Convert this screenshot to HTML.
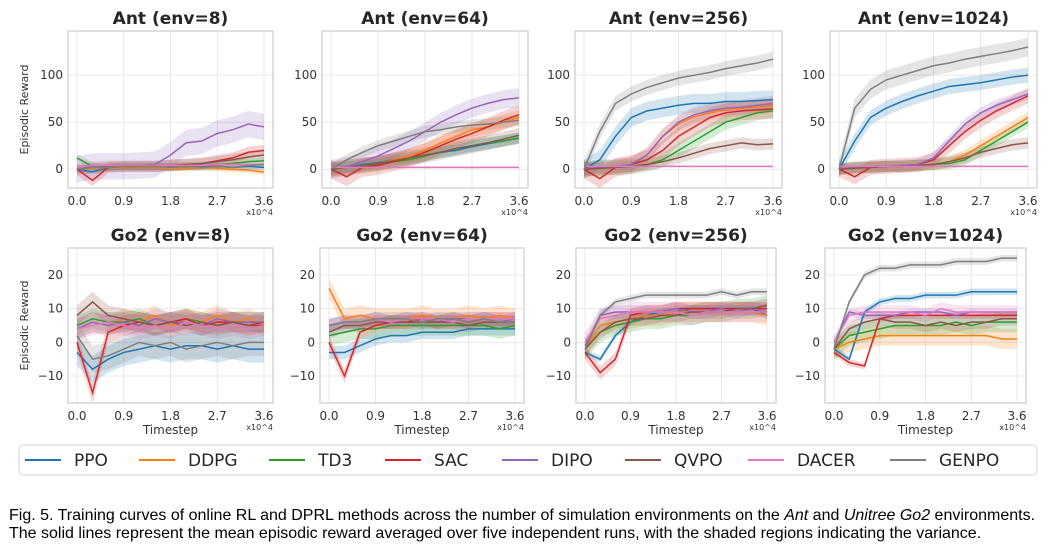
<!DOCTYPE html>
<html><head><meta charset="utf-8"><style>
body{margin:0;background:#fff;width:1064px;height:554px;overflow:hidden;font-family:"DejaVu Sans",sans-serif}
svg{position:absolute;left:0;top:0}
.cap{position:absolute;left:9px;font-family:"Liberation Sans",sans-serif;font-size:16px;color:#000;white-space:nowrap}
</style></head><body>
<svg id="chart" width="1064" height="554"></svg>
<div class="cap" style="top:507px">Fig. 5. Training curves of online RL and DPRL methods across the number of simulation environments on the <i>Ant</i> and <i>Unitree Go2</i> environments.</div>
<div class="cap" style="top:525px">The solid lines represent the mean episodic reward averaged over five independent runs, with the shaded regions indicating the variance.</div>
<script>
const methods=["PPO","DDPG","TD3","SAC","DIPO","QVPO","DACER","GENPO"];
const colors=["#1f77b4","#ff7f0e","#2ca02c","#d62728","#9467bd","#8c564b","#e377c2","#7f7f7f"];
const timesteps=[0,0.3,0.6,0.9,1.2,1.5,1.8,2.1,2.4,2.7,3.0,3.3,3.6];
const xTicks=[0,0.9,1.8,2.7,3.6];
const xTickLabels=["0.0","0.9","1.8","2.7","3.6"];
const antTicks=[0,50,100];
const go2Ticks=[-10,0,10,20];
const panelTitles=["Ant (env=8)","Ant (env=64)","Ant (env=256)","Ant (env=1024)","Go2 (env=8)","Go2 (env=64)","Go2 (env=256)","Go2 (env=1024)"];
const ant8=[[0,-3,2,3,2,3,3,2,3,3,2,3,2],[0,1,2,2,2,2,1,1,2,1,0,-1,-3],[12,3,2,3,3,3,3,4,4,5,6,8,9],[0,-12,2,3,3,3,4,5,6,9,12,18,20],[0,3,3,3,4,5,15,28,30,38,42,48,45],[0,2,3,3,3,3,4,5,6,8,10,13,15],[3,4,4,4,4,4,4,4,4,5,5,5,5],[0,2,2,3,3,3,2,3,2,3,2,4,5]];
const ant64=[[0,2,5,7,10,12,15,18,20,24,27,30,33],[0,2,4,6,10,14,20,28,35,42,45,50,55],[0,2,3,5,8,10,14,18,22,25,28,30,33],[0,-8,2,4,8,12,18,25,32,38,45,52,58],[0,3,8,14,22,30,40,50,58,65,70,74,76],[0,2,4,6,9,12,15,18,22,25,28,32,36],[2,2,2,2,2,2,2,2,2,2,2,2,2],[0,10,18,25,30,35,40,42,45,47,48,50,52]];
const ant256=[[0,10,35,55,62,65,68,70,70,72,72,73,74],[0,1,2,5,15,35,48,56,60,63,65,66,68],[0,1,2,3,5,10,20,30,40,50,55,60,62],[0,-10,2,5,10,20,35,45,55,60,62,63,64],[0,2,3,5,15,35,50,58,62,65,66,68,70],[0,1,2,3,5,8,12,17,22,25,28,26,27],[3,3,3,3,3,3,3,3,3,3,3,3,3],[0,40,70,80,87,92,97,100,103,107,110,113,117]];
const ant1024=[[0,30,55,65,72,78,83,88,90,92,95,98,100],[0,2,2,3,3,4,5,8,15,25,35,45,55],[0,2,2,3,3,4,5,6,10,20,30,40,50],[0,-8,2,3,4,5,10,25,40,52,62,70,78],[0,2,3,3,4,5,12,30,48,60,68,74,80],[0,1,2,3,3,4,5,8,12,18,22,26,28],[3,3,3,3,3,3,3,3,3,3,3,3,3],[0,65,85,95,100,105,110,113,117,120,123,126,130]];
const go8=[[-3,-8,-5,-3,-2,-1,-2,-1,-1,-2,-1,-2,-2],[4,6,5,7,6,8,5,7,6,8,6,7,5],[5,7,6,6,7,5,6,7,6,5,6,6,6],[0,-15,3,5,6,5,6,7,5,6,6,5,6],[4,6,5,6,5,7,6,6,5,7,6,6,6],[8,12,8,7,6,5,6,5,6,5,6,5,5],[4,5,6,5,4,5,4,6,5,4,5,4,5],[2,-5,-4,-2,0,-1,0,-2,-1,0,-1,0,0]];
const go64=[[-3,-3,-1,1,2,2,3,3,3,4,4,4,4],[16,7,8,7,7,7,8,7,7,8,7,8,7],[2,3,4,4,5,5,5,5,5,5,5,4,5],[0,-10,3,5,6,6,7,6,7,6,7,7,7],[5,6,6,7,6,7,7,6,7,7,7,6,7],[3,5,5,6,6,6,6,6,6,5,6,6,6],[5,6,6,7,6,7,7,7,6,7,7,7,7],[5,6,6,7,7,7,6,7,7,6,7,6,6]];
const go256=[[-3,-5,2,6,8,9,9,10,10,10,10,10,8],[-2,5,6,7,8,8,9,9,9,9,9,9,8],[-2,3,5,6,7,7,8,8,9,9,10,10,11],[-3,-9,-5,8,9,9,10,10,10,10,10,10,10],[-1,8,9,9,9,9,10,9,9,10,9,10,9],[-2,3,6,7,7,8,8,9,9,9,10,10,11],[0,7,8,9,9,9,9,8,9,9,9,9,9],[-2,8,12,13,14,14,14,14,14,15,14,15,15]];
const go1024=[[-2,-5,9,12,13,13,14,14,14,15,15,15,15],[-2,0,1,2,2,2,2,2,2,2,2,1,1],[-2,2,3,4,5,5,5,5,6,5,6,6,6],[-3,-6,-7,7,8,8,8,8,8,8,8,8,8],[0,9,8,8,8,9,9,9,8,9,9,9,9],[-2,4,6,7,6,6,5,6,5,6,6,7,7],[0,8,9,9,9,9,8,10,9,9,9,9,9],[-2,12,20,22,22,23,23,23,24,24,24,25,25]];
const spreadAnt=[[3,3,4,6,14,6,2,4],[6,8,6,10,10,8,1,6],[10,8,8,10,8,6,1,8],[8,6,6,8,6,6,1,10]];
const spreadGo2=[[4,3,3,3,3,3,3,4],[2,3,3,2,2,2,2,2],[1,3,3,2,2,2,3,1],[1,3,3,1,1,2,2,1]];
const allData=[ant8,ant64,ant256,ant1024,go8,go64,go256,go1024];

const NS="http://www.w3.org/2000/svg";
const svg=document.getElementById("chart");
function mk(tag,attrs,parent){const e=document.createElementNS(NS,tag);for(const k in attrs)e.setAttribute(k,attrs[k]);(parent||svg).appendChild(e);return e;}
const rowTop=[31,248],rowH=[157,155];
const lefts=[[68,322,575,830],[68,320,576,825]];
const widths=[[205,206,207,207],[205,204,200,201]];
const ylims=[[-20,147],[-18,28]];
for(let p=0;p<8;p++){
  const r=Math.floor(p/4),c=p%4;
  const L=lefts[r][c],W=widths[r][c],T=rowTop[r],H=rowH[r];
  const [y0,y1]=ylims[r];
  const xs=v=>L+9+v/3.6*(W-18);
  const ys=v=>T+H-(v-y0)/(y1-y0)*H;
  const g=mk("g",{});
  
  
  const t=mk("text",{x:L+W/2,y:T-7,"text-anchor":"middle","font-size":"17","font-weight":"bold",fill:"#262626"},g);
  t.textContent=panelTitles[p];
  
  
  const yt=r===0?antTicks:go2Ticks;
  xTicks.forEach((v,i)=>{
    mk("line",{x1:xs(v),x2:xs(v),y1:T,y2:T+H,stroke:"#e8e8e8","stroke-width":1},g);
    const tl=mk("text",{x:xs(v),y:T+H+17,"text-anchor":"middle","font-size":"12",fill:"#333"},g);
    tl.textContent=xTickLabels[i];
    
    
  });
  yt.forEach(v=>{
    mk("line",{x1:L,x2:L+W,y1:ys(v),y2:ys(v),stroke:"#e8e8e8","stroke-width":1},g);
    const tl=mk("text",{x:L-5,y:ys(v)+4,"text-anchor":"end","font-size":"12",fill:"#333"},g);
    tl.textContent=v<0?"\u2212"+(-v):String(v);
    
    
  });
  const ex=mk("text",{x:L+W,y:T+H+27,"text-anchor":"end","font-size":"8",fill:"#333"},g);
  ex.textContent="x10^4";
  
  
  const data=allData[p];
  const sp=(r===0?spreadAnt:spreadGo2)[c];
  data.forEach((ser,s)=>{
    let up=ser.map((v,i)=>xs(timesteps[i])+","+ys(v+sp[s]));
    let dn=ser.map((v,i)=>xs(timesteps[i])+","+ys(v-sp[s])).reverse();
    const band=mk("polygon",{points:up.concat(dn).join(" "),fill:colors[s],"fill-opacity":0.2,stroke:"none"},g);
    
    
  });
  data.forEach((ser,s)=>{
    const ln=mk("polyline",{points:ser.map((v,i)=>xs(timesteps[i])+","+ys(v)).join(" "),fill:"none",stroke:colors[s],"stroke-width":1.5},g);
    
    
  });
  mk("rect",{x:L,y:T,width:W,height:H,fill:"none",stroke:"#cccccc","stroke-width":1.2},g);
  if(c===0){
    const yl=mk("text",{transform:`translate(${L-40},${T+H/2}) rotate(-90)`,"text-anchor":"middle","font-size":"11",fill:"#333"},g);
    yl.textContent="Episodic Reward";
    
    
  }
  if(r===1){
    const xl=mk("text",{x:L+W/2,y:T+H+31,"text-anchor":"middle","font-size":"12",fill:"#333"},g);
    xl.textContent="Timestep";
    
    
  }
}
const lg=mk("g",{});


mk("rect",{x:19,y:445,width:1018,height:30,rx:3,fill:"#fff",stroke:"#d5d5d5","stroke-width":1},lg);
const legX=[25,139,269,385,502,625,748,890];
methods.forEach((m,s)=>{
  const e=mk("g",{},lg);
  
  
  mk("line",{x1:legX[s],x2:legX[s]+36,y1:460,y2:460,stroke:colors[s],"stroke-width":2},e);
  const tx=mk("text",{x:legX[s]+49,y:466,"font-size":"17",fill:"#262626"},e);
  tx.textContent=m;
});
</script>
</body></html>
